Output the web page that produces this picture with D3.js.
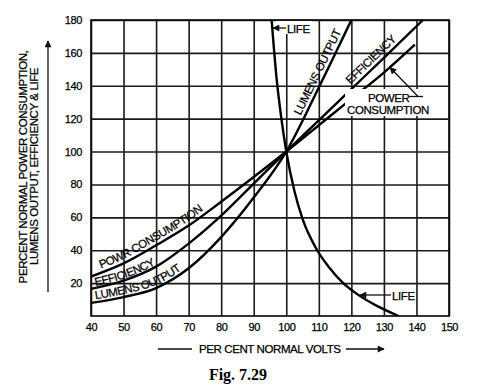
<!DOCTYPE html>
<html>
<head>
<meta charset="utf-8">
<script src="https://cdnjs.cloudflare.com/ajax/libs/d3/7.8.5/d3.min.js"></script>
<style>
  body { margin: 0; background: #fff; }
  text { font-family: "Liberation Sans", Arial, sans-serif; fill: #000; stroke: #000; stroke-width: 0.25px; }
</style>
</head>
<body>
<div class="canvas"></div>
<script>
// tick labels
const xTicks = [40, 50, 60, 70, 80, 90, 100, 110, 120, 130, 140, 150];
const yTicks = [20, 40, 60, 80, 100, 120, 140, 160, 180];

// curves (per cent normal volts -> per cent)
const powerVolts = [40, 50, 60, 70, 80, 90, 100, 110, 120, 130, 139.5];
const powerValues = [24, 32, 43, 55, 69.5, 84.5, 100, 116, 132, 148, 165];

const efficiencyVolts = [40, 50, 60, 70, 80, 90, 100, 110, 120, 130, 142];
const efficiencyValues = [16.5, 21.5, 30, 44, 61, 80.5, 100, 119, 138, 157, 180];

const lumensVolts = [40, 50, 60, 70, 80, 90, 100, 110, 120];
const lumensValues = [8, 11.5, 17, 29, 48, 72, 100, 139, 180];

const lifeVolts = [95.5, 97, 98.5, 100, 102.5, 105, 109.5, 113, 117.5, 122, 128, 134.5];
const lifeValues = [180, 145, 120, 100, 76, 59, 40, 30, 20, 13, 6, 0];

const margin = { left: 91, top: 20 };
const dimension = { width: 358, height: 296 };

const svg = d3
  .select('.canvas')
  .append('svg')
  .attr('width', 478)
  .attr('height', 388);

// arrow head marker
svg
  .append('defs')
  .append('marker')
  .attr('id', 'arrow')
  .attr('viewBox', '0 0 10 10')
  .attr('refX', 9)
  .attr('refY', 5)
  .attr('markerUnits', 'userSpaceOnUse')
  .attr('markerWidth', 9)
  .attr('markerHeight', 7)
  .attr('orient', 'auto')
  .append('path')
  .attr('d', 'M0,0 L10,5 L0,10 Z')
  .attr('fill', '#111');

svg
  .select('defs')
  .append('clipPath')
  .attr('id', 'plot-clip')
  .append('rect')
  .attr('width', dimension.width)
  .attr('height', dimension.height);

const graph = svg
  .append('g')
  .attr('transform', `translate(${margin.left}, ${margin.top})`);

const x = d3.scaleLinear().domain([40, 150]).range([0, dimension.width]);
const y = d3.scaleLinear().domain([0, 180]).range([dimension.height, 0]);

// grid + tick labels
const xAxis = graph
  .append('g')
  .attr('transform', `translate(0, ${dimension.height})`)
  .call(
    d3.axisBottom(x)
      .tickValues(xTicks)
      .tickSize(-dimension.height)
      .tickPadding(7)
  );

const yAxis = graph
  .append('g')
  .call(
    d3.axisLeft(y)
      .tickValues(yTicks)
      .tickSize(-dimension.width)
      .tickPadding(9)
  );

[xAxis, yAxis].forEach(a => {
  a.select('.domain').remove();
  a.selectAll('line').attr('stroke', '#1a1a1a').attr('stroke-width', 1.6);
  a.selectAll('text')
    .attr('fill', '#000')
    .style('font-family', '"Liberation Sans", Arial, sans-serif')
    .style('font-size', '11px')
    .style('letter-spacing', '-0.4px');
});

graph
  .append('rect')
  .attr('width', dimension.width)
  .attr('height', dimension.height)
  .attr('fill', 'none')
  .attr('stroke', '#111')
  .attr('stroke-width', 1.7);

// curves
const line = d3
  .line()
  .x(d => x(d[0]))
  .y(d => y(d[1]))
  .curve(d3.curveMonotoneX);

const series = [
  { id: 'power', volts: powerVolts, values: powerValues },
  { id: 'efficiency', volts: efficiencyVolts, values: efficiencyValues },
  { id: 'lumens', volts: lumensVolts, values: lumensValues },
  { id: 'life', volts: lifeVolts, values: lifeValues }
];

const curves = graph.append('g').attr('clip-path', 'url(#plot-clip)');

curves
  .selectAll('path')
  .data(series)
  .enter()
  .append('path')
  .attr('id', d => `curve-${d.id}`)
  .attr('d', d => line(d.volts.map((v, i) => [v, d.values[i]])))
  .attr('fill', 'none')
  .attr('stroke', '#000')
  .attr('stroke-width', 2.4);

// offset along a path where it reaches a given volt value
const offsetAt = (id, volt) => {
  const node = document.getElementById(`curve-${id}`);
  let lo = 0;
  let hi = node.getTotalLength();
  const target = x(volt);
  for (let k = 0; k < 40; k++) {
    const mid = (lo + hi) / 2;
    if (node.getPointAtLength(mid).x < target) lo = mid;
    else hi = mid;
  }
  return lo;
};

// labels written along the curves
const curveLabels = [
  { id: 'power', text: 'POWR CONSUMPTION', from: 43.5, dy: -4 },
  { id: 'efficiency', text: 'EFFICIENCY', from: 41.5, dy: -2 },
  { id: 'lumens', text: 'LUMENS OUTPUT', from: 41.5, dy: -3 },
  { id: 'lumens', text: 'LUMENS OUTPUT', from: 105.5, dy: -4 },
  { id: 'efficiency', text: 'EFFICIENCY', from: 120.5, dy: -4 }
];

graph
  .selectAll('.curve-label')
  .data(curveLabels)
  .enter()
  .append('text')
  .attr('class', 'curve-label')
  .attr('dy', d => d.dy)
  .style('font-size', '11.5px')
  .style('letter-spacing', '-0.4px')
  .append('textPath')
  .attr('href', d => `#curve-${d.id}`)
  .attr('startOffset', d => offsetAt(d.id, d.from))
  .text(d => d.text);

// callouts
const labels = svg.append('g').style('font-size', '11.5px').style('letter-spacing', '-0.4px');

labels.append('rect').attr('x', 276).attr('y', 21).attr('width', 36).attr('height', 13).attr('fill', '#fff');
labels.append('line')
  .attr('x1', 286).attr('y1', 28).attr('x2', 273).attr('y2', 28)
  .attr('stroke', '#111').attr('stroke-width', 1.3).attr('marker-end', 'url(#arrow)');
labels.append('text').attr('x', 287).attr('y', 32.5).text('LIFE');

labels.append('line')
  .attr('x1', 391).attr('y1', 295).attr('x2', 360).attr('y2', 295)
  .attr('stroke', '#111').attr('stroke-width', 1.3).attr('marker-end', 'url(#arrow)');
labels.append('text').attr('x', 392).attr('y', 299.5).text('LIFE');

labels.append('rect').attr('x', 345).attr('y', 89).attr('width', 86).attr('height', 27).attr('fill', '#fff');
labels.append('text').attr('x', 368).attr('y', 101.5).text('POWER');
labels.append('text').attr('x', 347).attr('y', 114).text('CONSUMPTION');
labels.append('line')
  .attr('x1', 409).attr('y1', 96.5).attr('x2', 423).attr('y2', 96.5)
  .attr('stroke', '#111').attr('stroke-width', 1.3);
labels.append('line')
  .attr('x1', 418).attr('y1', 96.5).attr('x2', 390).attr('y2', 67.5)
  .attr('stroke', '#111').attr('stroke-width', 1.3).attr('marker-end', 'url(#arrow)');

// axis titles
labels.append('line')
  .attr('x1', 158).attr('y1', 349).attr('x2', 192).attr('y2', 349)
  .attr('stroke', '#111').attr('stroke-width', 1.3);
labels.append('text').attr('x', 199).attr('y', 353).text('PER CENT NORMAL VOLTS');
labels.append('line')
  .attr('x1', 346).attr('y1', 349).attr('x2', 384).attr('y2', 349)
  .attr('stroke', '#111').attr('stroke-width', 1.3).attr('marker-end', 'url(#arrow)');

labels.append('line')
  .attr('x1', 48).attr('y1', 292).attr('x2', 48).attr('y2', 41)
  .attr('stroke', '#111').attr('stroke-width', 1.3).attr('marker-end', 'url(#arrow)');

labels.append('text')
  .attr('transform', 'translate(27, 167) rotate(-90)')
  .attr('text-anchor', 'middle')
  .text('PERCENT NORMAL POWER CONSUMPTION,');
labels.append('text')
  .attr('transform', 'translate(37.5, 166.5) rotate(-90)')
  .attr('text-anchor', 'middle')
  .text('LUMENS OUTPUT, EFFICIENCY & LIFE');

svg
  .append('text')
  .attr('x', 238)
  .attr('y', 380)
  .attr('text-anchor', 'middle')
  .style('font-family', '"Liberation Serif", "Times New Roman", serif')
  .style('font-weight', 'bold')
  .style('font-size', '16px')
  .style('stroke-width', '0')
  .text('Fig. 7.29');
</script>
</body>
</html>
